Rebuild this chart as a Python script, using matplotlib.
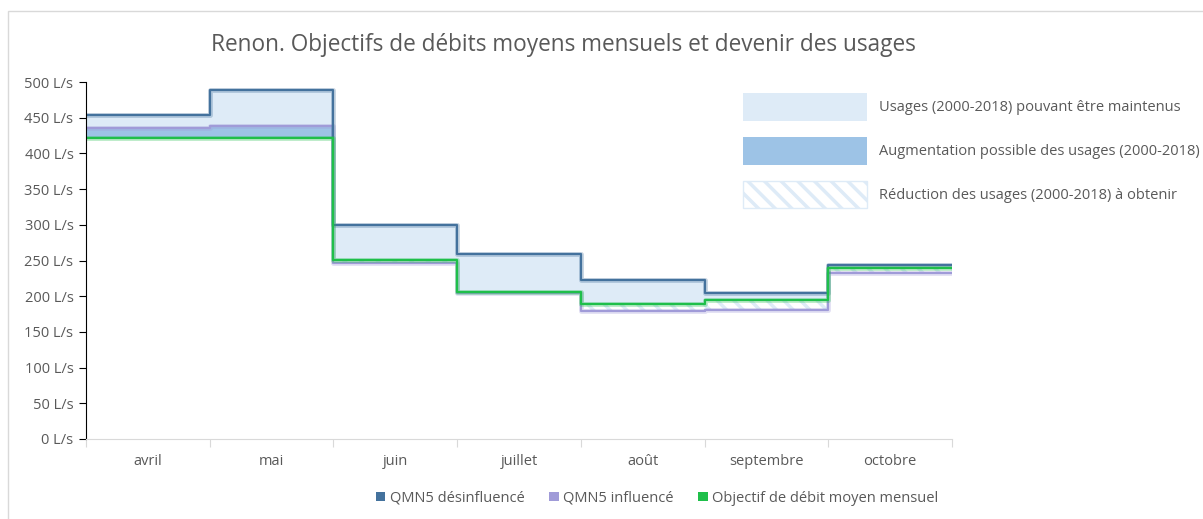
import numpy as np
import matplotlib
matplotlib.use("Agg")
import matplotlib.pyplot as plt
from matplotlib.patches import Patch, Rectangle
import matplotlib.patheffects as pe

plt.rcParams['font.family'] = ['Open Sans', 'DejaVu Sans']
plt.rcParams['hatch.linewidth'] = 2.5

# Données (L/s)
mois = ['avril', 'mai', 'juin', 'juillet', 'août', 'septembre', 'octobre']
qmn5_desinfluence = np.array([454, 489, 300, 259, 223, 205, 244])
qmn5_influence = np.array([436, 439, 247, 204, 179, 180, 233])
objectif = np.array([422, 422, 251, 206, 189, 194, 239])

c_desinf = '#44729D'
c_infl = '#A09BD8'
c_obj = '#1FBF4A'
c_light = '#DEEBF7'
c_mid = '#9DC3E6'
c_text = '#595959'
fs = 10.5

fig = plt.figure(figsize=(12.03, 5.19), dpi=100)
ax = fig.add_axes([86 / 1203, 1 - 439 / 519, (952 - 86) / 1203, (439 - 82) / 519])

x = np.arange(len(mois) + 1)
ext = lambda v: np.append(v, v[-1])
d = ext(qmn5_desinfluence)
i = ext(qmn5_influence)
o = ext(objectif)

# zones
ax.fill_between(x, np.maximum(i, o), d, step='post', color=c_light, lw=0)
ax.fill_between(x, o, np.maximum(i, o), step='post', color=c_mid, lw=0)
ax.fill_between(x, np.minimum(i, o), o, step='post', facecolor='white',
                edgecolor=c_light, hatch='\\\\', lw=0)

glow = lambda c: [pe.Stroke(linewidth=3.5, foreground=c, alpha=0.3), pe.Normal()]
ax.step(x, i, where='post', color=c_infl, lw=1.6, path_effects=glow(c_infl))
ax.step(x, d, where='post', color=c_desinf, lw=1.6, path_effects=glow(c_desinf))
ax.step(x, o, where='post', color=c_obj, lw=1.6, path_effects=glow(c_obj))

ax.set_xlim(0, len(mois))
ax.set_ylim(0, 500)
ax.set_yticks(np.arange(0, 501, 50))
ax.set_yticklabels([f'{v} L/s' for v in range(0, 501, 50)])
ax.tick_params(axis='y', length=5, colors='black', labelcolor=c_text, labelsize=fs, pad=4)

ax.set_xticks(x)
ax.set_xticklabels([])
ax.set_xticks(np.arange(len(mois)) + 0.5, minor=True)
ax.set_xticklabels(mois, minor=True)
ax.tick_params(axis='x', which='major', length=6, color='#D9D9D9')
ax.tick_params(axis='x', which='minor', length=0, labelcolor=c_text, labelsize=fs, pad=11)

for s in ['top', 'right']:
    ax.spines[s].set_visible(False)
ax.spines['bottom'].set_color('#D9D9D9')
ax.spines['left'].set_color('black')

fig.text(0.468, 1 - 45 / 519, 'Renon. Objectifs de débits moyens mensuels et devenir des usages',
         ha='center', va='center', fontsize=16.3, color=c_text)

# légende des zones
zone_handles = [
    Patch(facecolor=c_light, edgecolor='none', label='Usages (2000-2018) pouvant être maintenus'),
    Patch(facecolor=c_mid, edgecolor='none', label='Augmentation possible des usages (2000-2018)'),
    Patch(facecolor='white', edgecolor=c_light, hatch='\\\\', label='Réduction des usages (2000-2018) à obtenir'),
]
leg1 = fig.legend(handles=zone_handles, loc='upper left', bbox_to_anchor=(743 / 1203, 1 - 93 / 519),
                  frameon=False, fontsize=fs, handlelength=8.5, handleheight=2.55,
                  labelspacing=1.1, handletextpad=0.8, borderpad=0, borderaxespad=0)
for t in leg1.get_texts():
    t.set_color(c_text)

# légende des séries
serie_handles = [
    Patch(facecolor=c_desinf, label='QMN5 désinfluencé'),
    Patch(facecolor=c_infl, label='QMN5 influencé'),
    Patch(facecolor=c_obj, label='Objectif de débit moyen mensuel'),
]
leg2 = fig.legend(handles=serie_handles, loc='center', bbox_to_anchor=(657 / 1203, 1 - 498 / 519),
                  ncol=3, frameon=False, fontsize=fs, handlelength=0.65, handleheight=0.65,
                  handletextpad=0.3, columnspacing=1.7, borderpad=0)
for t in leg2.get_texts():
    t.set_color(c_text)

fig.add_artist(Rectangle((8 / 1203, -0.1), 1.1, 1.1 - 11 / 519, transform=fig.transFigure,
                         fill=False, edgecolor='#D9D9D9', lw=1))

fig.savefig('out.png', dpi=100)
